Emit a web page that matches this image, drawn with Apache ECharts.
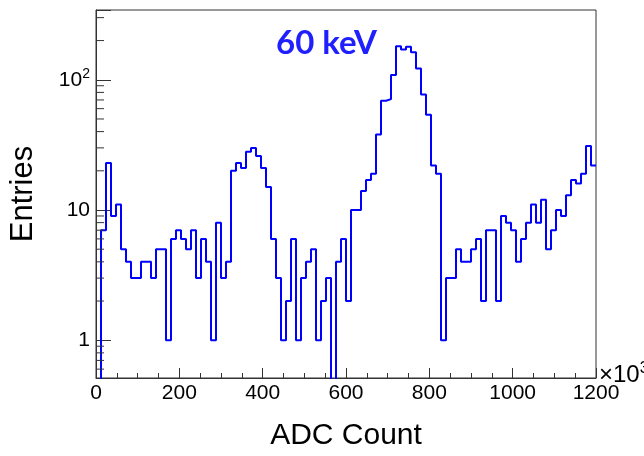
<!DOCTYPE html>
<html>
<head>
<meta charset="utf-8">
<script src="https://cdn.jsdelivr.net/npm/echarts@6/dist/echarts.min.js"></script>
<style>
html,body{margin:0;padding:0;background:#fff;}
#chart{width:644px;height:456px;}
</style>
</head>
<body>
<div id="chart"></div>
<script>
// Histogram: 100 bins of width 12 (x10^3 ADC counts) from 0 to 1200
const binWidth = 12;
const binCounts = [
  0, 7, 23, 9, 11, 5, 4, 3, 3, 4,
  4, 3, 5, 5, 1, 6, 7, 6, 5, 7,
  3, 6, 4, 1, 8, 3, 4, 20, 23, 21,
  28, 30, 26, 21, 15, 6, 3, 1, 2, 6,
  1, 3, 4, 5, 1, 2, 3, 0, 4, 6,
  2, 10, 10, 14, 17, 19, 38, 69, 71, 109,
  181, 171, 179, 163, 122, 77, 54, 22, 19, 1,
  3, 3, 5, 4, 4, 5, 6, 2, 7, 7,
  2, 9, 8, 7, 4, 6, 8, 11, 8, 12,
  5, 7, 10, 9, 13, 17, 16, 19, 31, 22
];
const xTicks = [0, 200, 400, 600, 800, 1000, 1200];
const yMajorTicks = [1, 10, 100];
const yMinorTicks = [0.6, 0.7, 0.8, 0.9, 2, 3, 4, 5, 6, 7, 8, 9, 20, 30, 40, 50, 60, 70, 80, 90, 200, 300];
const annotation = '60 keV';

const yMin = 0.513, yMax = 343.4;
const floorVal = 0.05; // empty bins drawn below the axis floor (log scale)

const stepData = [];
binCounts.forEach((c, i) => stepData.push([i * binWidth, c > 0 ? c : floorVal]));
stepData.push([binCounts.length * binWidth, binCounts[binCounts.length - 1] > 0 ? binCounts[binCounts.length - 1] : floorVal]);

const FONT = '"Liberation Sans", Arial, sans-serif';

const chart = echarts.init(document.getElementById('chart'), null, {renderer: 'canvas'});
chart.setOption({
  animation: false,
  backgroundColor: '#fff',
  grid: {left: 96, right: 48, top: 10, bottom: 73, show: true, borderColor: '#333', borderWidth: 1, backgroundColor: 'transparent'},
  xAxis: {
    type: 'value', min: 0, max: 1200, interval: 200,
    name: 'ADC Count', nameLocation: 'middle', nameGap: 43,
    nameTextStyle: {fontFamily: FONT, fontSize: 30, color: '#000'},
    axisLine: {show: true, onZero: false, lineStyle: {color: '#333', width: 1}},
    axisTick: {show: true, inside: true, length: 10, lineStyle: {color: '#333'}},
    minorTick: {show: true, splitNumber: 4, length: 5, lineStyle: {color: '#333'}},
    splitLine: {show: false},
    axisLabel: {fontFamily: FONT, fontSize: 21, color: '#000', margin: 5,
      formatter: v => xTicks.includes(v) ? String(v) : ''}
  },
  yAxis: {
    type: 'log', logBase: 10, min: yMin, max: yMax,
    name: 'Entries', nameLocation: 'middle', nameGap: 57,
    nameTextStyle: {fontFamily: FONT, fontSize: 31, color: '#000'},
    axisLine: {show: true, lineStyle: {color: '#333', width: 1}},
    axisTick: {show: true, inside: true, length: 15, lineStyle: {color: '#333'}},
    splitLine: {show: false},
    axisLabel: {fontFamily: FONT, fontSize: 21, color: '#000', margin: 6,
      formatter: v => {
        const r = Math.round(v);
        if (Math.abs(v - r) > 1e-6 || !yMajorTicks.includes(r)) return '';
        if (r === 1) return '1';
        if (r === 10) return '10';
        return '10{sup|' + Math.round(Math.log10(r)) + '}';
      },
      rich: {sup: {fontFamily: FONT, fontSize: 14, color: '#000', verticalAlign: 'top', padding: [0, 0, 12, 0]}}
    }
  },
  series: [
    {
      type: 'line', step: 'end', data: stepData, symbol: 'none', clip: true,
      lineStyle: {color: '#0000ff', width: 2}, silent: true, z: 5
    },
    {
      type: 'custom', silent: true, z: 6, clip: false,
      data: yMinorTicks.map(v => [0, v]),
      renderItem: (params, api) => {
        const p = api.coord([0, api.value(1)]);
        return {type: 'line', shape: {x1: p[0], y1: p[1], x2: p[0] + 8, y2: p[1]},
          style: {stroke: '#333', lineWidth: 1}};
      }
    }
  ],
  graphic: [
    {type: 'text', left: 276, top: 27, style: {text: annotation, fontFamily: 'Lato, "Open Sans", sans-serif', fontWeight: 'bold', fontSize: 33, fill: '#2020ff'}},
    {type: 'text', left: 599, top: 361, style: {text: '×10{s|3}', fontFamily: FONT, fontSize: 24, fill: '#000',
      rich: {s: {fontFamily: FONT, fontSize: 16, fill: '#000', verticalAlign: 'top', padding: [0,0,12,0]}}}}
  ]
});
</script>
</body>
</html>
